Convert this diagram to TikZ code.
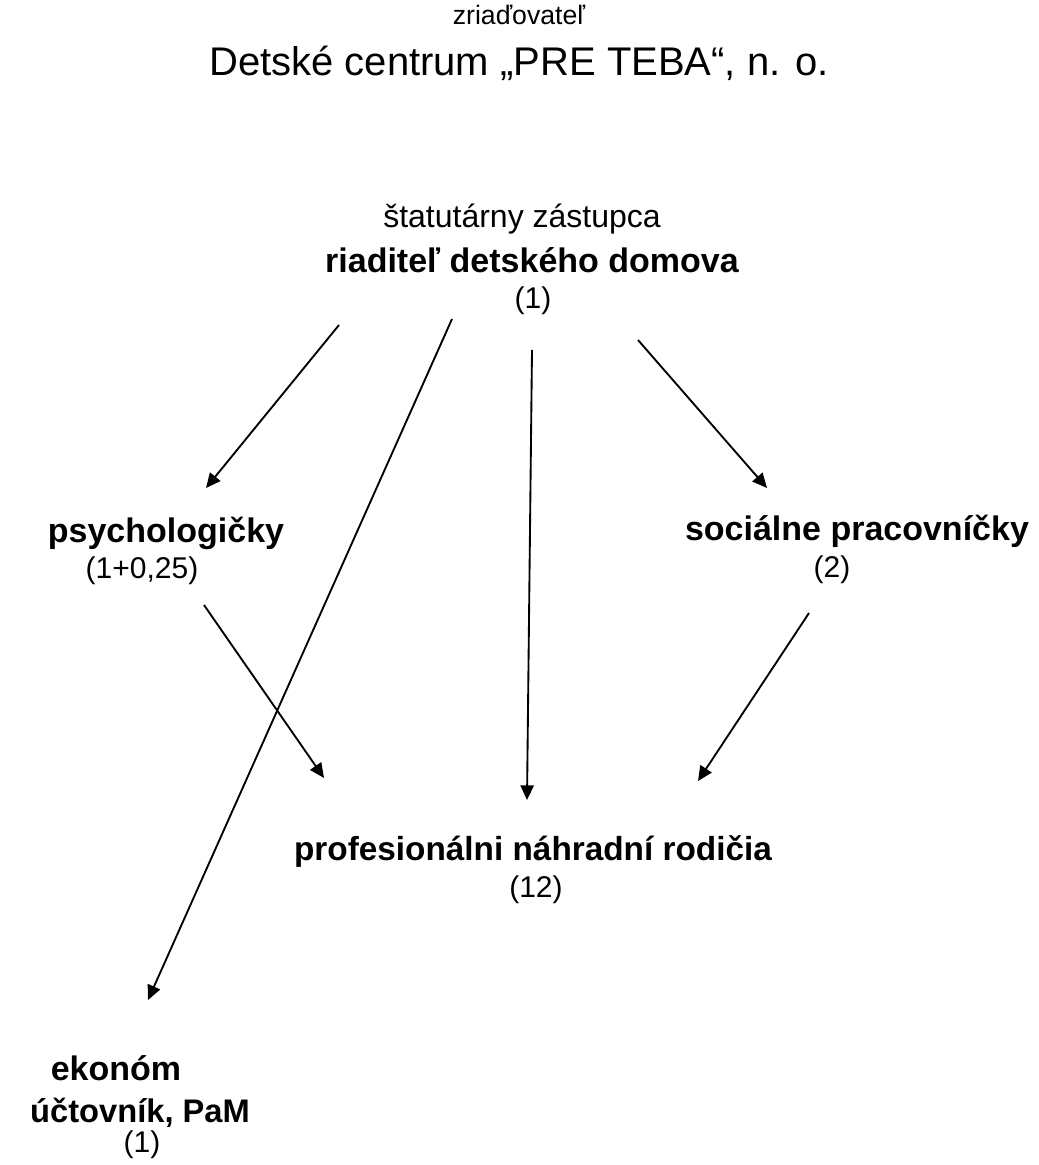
\documentclass[tikz,border=0pt]{standalone}
\usepackage{fontspec}
\setmainfont{Liberation Sans}
\usetikzlibrary{arrows.meta}
\begin{document}
\begin{tikzpicture}[x=0.75pt,y=-0.75pt,
  small/.style={font=\fontsize{22.5}{26}\selectfont,anchor=base,inner sep=0pt},
  title/.style={font=\fontsize{30}{34}\selectfont,anchor=base,inner sep=0pt},
  role/.style={font=\fontsize{25.5}{30}\selectfont\bfseries,anchor=base,inner sep=0pt},
  conn/.style={line width=1.4pt,-{Triangle[length=11pt,width=10pt]}}]
\useasboundingbox (0,0) rectangle (1039,1165);
% texts
\node[small,font=\fontsize{20}{24}\selectfont] (zr) at (519,24) {zriaďovateľ};
\node[title] (dc) at (519,75) {Detské centrum „PRE TEBA“, n. o.};
\node[small,font=\fontsize{24}{28}\selectfont] (st) at (522,227) {štatutárny zástupca};
\node[role] (rd) at (532,272) {riaditeľ detského domova};
\node[small] (rdn) at (533,308) {(1)};
\node[role] (ps) at (166,542) {psychologičky};
\node[small] (psn) at (142,578) {(1+0,25)};
\node[role] (so) at (857,540) {sociálne pracovníčky};
\node[small] (son) at (832,577) {(2)};
\node[role,font=\fontsize{25}{30}\selectfont\bfseries] (pr) at (533,860) {profesionálni náhradní rodičia};
\node[small] (prn) at (536,897) {(12)};
\node[role] (ek) at (116,1080) {ekonóm};
\node[role,font=\fontsize{24.5}{30}\selectfont\bfseries] (uc) at (140,1122) {účtovník, PaM};
\node[small] (ekn) at (142,1152) {(1)};
% connector ends
\coordinate (a1s) at (339,325); \coordinate (a1e) at (206,488);
\coordinate (a2s) at (452,319); \coordinate (a2e) at (148,1000);
\coordinate (a3s) at (532,350); \coordinate (a3e) at (527,800);
\coordinate (a4s) at (638,340); \coordinate (a4e) at (767,488);
\coordinate (a5s) at (204,605); \coordinate (a5e) at (324,778);
\coordinate (a6s) at (809,613); \coordinate (a6e) at (698,781);
\draw[conn] (a1s) -- (a1e);
\draw[conn] (a2s) -- (a2e);
\draw[conn] (a3s) -- (a3e);
\draw[conn] (a4s) -- (a4e);
\draw[conn] (a5s) -- (a5e);
\draw[conn] (a6s) -- (a6e);
\end{tikzpicture}
\end{document}
